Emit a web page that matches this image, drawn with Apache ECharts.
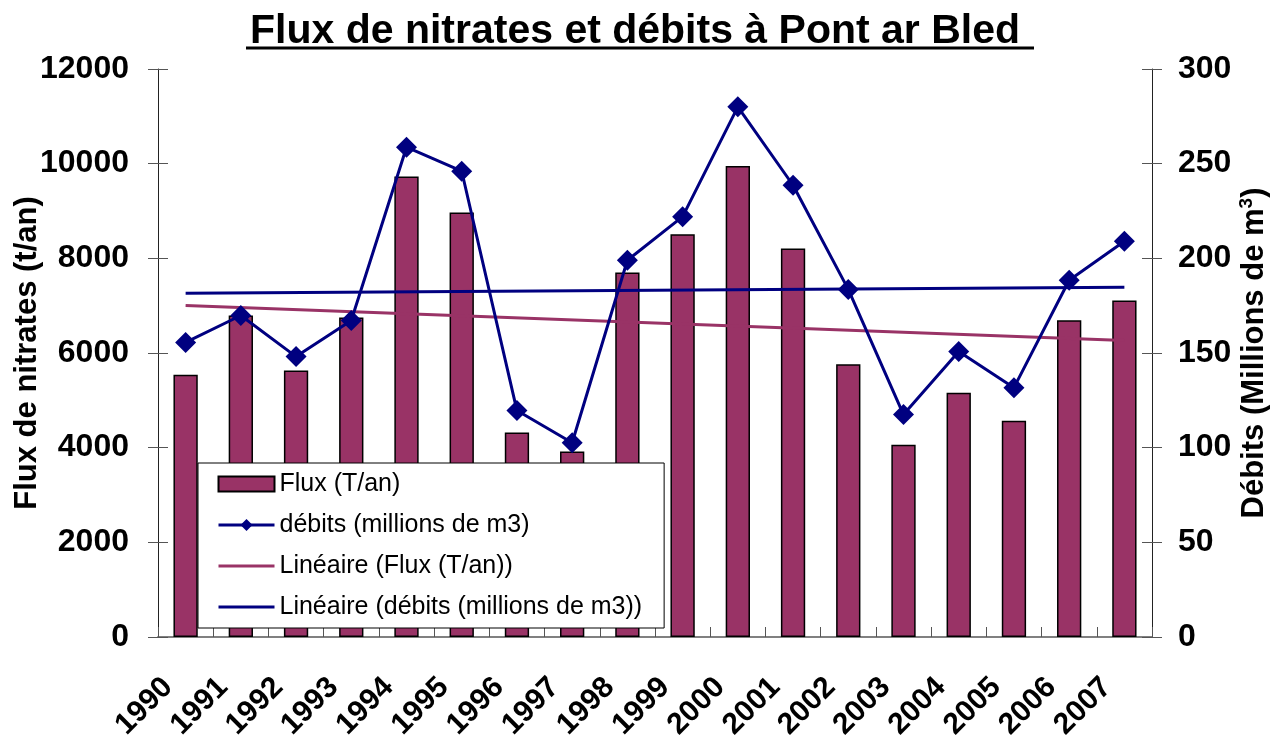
<!DOCTYPE html>
<html>
<head>
<meta charset="utf-8">
<script src="https://cdn.jsdelivr.net/npm/echarts@6/dist/echarts.min.js"></script>
<style>
  html, body { margin: 0; padding: 0; background: #fff; }
  #chart { width: 1270px; height: 740px; }
</style>
</head>
<body>
<div id="chart"></div>
<script>
const years = ['1990', '1991', '1992', '1993', '1994', '1995', '1996', '1997', '1998',
  '1999', '2000', '2001', '2002', '2003', '2004', '2005', '2006', '2007'];
const flux = [5540, 6790, 5630, 6750, 9730, 8970, 4320, 3920, 7700,
  8510, 9950, 8210, 5760, 4060, 5160, 4570, 6690, 7110];
const debits = [155.6, 169.8, 148.1, 167.2, 258.7, 246, 119.6, 102.6, 199,
  222, 280, 238.6, 183.6, 117.5, 150.8, 131.7, 188.4, 209];
// trend lines (first and last year only)
const fluxTrend = [7005, null, null, null, null, null, null, null, null,
  null, null, null, null, null, null, null, null, 6265];
const debitsTrend = [181.5, null, null, null, null, null, null, null, null,
  null, null, null, null, null, null, null, null, 184.7];

const FONT = 'Liberation Sans, Arial, sans-serif';
const barColor = '#993366';
const navy = '#000080';
const tickColor = '#555';

const chart = echarts.init(document.getElementById('chart'));

// helper axes only draw the inner half of the crossing tick marks
const innerTicksY = (pos, max, interval) => ({
  type: 'value',
  position: pos,
  min: 0,
  max: max,
  interval: interval,
  axisLine: { show: false },
  axisTick: { show: true, inside: true, length: 10, lineStyle: { color: tickColor } },
  axisLabel: { show: false },
  splitLine: { show: false }
});

const option = {
  animation: false,
  title: {
    text: 'Flux de nitrates et débits à Pont ar Bled',
    left: 'center',
    top: 6,
    textStyle: { fontFamily: FONT, fontSize: 41, fontWeight: 'bold', color: '#000' }
  },
  graphic: [
    {
      type: 'line',
      shape: { x1: 246, y1: 48, x2: 1034, y2: 48 },
      style: { stroke: '#000', lineWidth: 3 },
      z: 10
    }
  ],
  legend: {
    orient: 'vertical',
    left: 198,
    top: 463,
    padding: [8, 22, 8, 19],
    itemWidth: 56,
    itemHeight: 15,
    itemGap: 15,
    backgroundColor: '#fff',
    borderColor: '#000',
    borderWidth: 1,
    borderRadius: 0,
    lineStyle: { width: 3 },
    textStyle: { fontFamily: FONT, fontSize: 25, color: '#000', lineHeight: 26 },
    data: [
      { name: 'Flux (T/an)', icon: 'rect' },
      { name: 'débits (millions de m3)' },
      { name: 'Linéaire (Flux (T/an))', itemStyle: { opacity: 0 } },
      { name: 'Linéaire (débits (millions de m3))', itemStyle: { opacity: 0 } }
    ]
  },
  grid: { left: 158, right: 118, top: 69, bottom: 103, outerBoundsMode: 'none' },
  xAxis: [
    {
      type: 'category',
      data: years,
      axisLine: { lineStyle: { color: tickColor, width: 1 } },
      axisTick: { length: 10, lineStyle: { color: tickColor } },
      axisLabel: {
        interval: 0,
        rotate: 45,
        margin: 28,
        padding: [0, 25, 0, 0],
        fontFamily: FONT,
        fontSize: 30,
        fontWeight: 'bold',
        color: '#000'
      }
    },
    {
      type: 'category',
      position: 'top',
      data: years,
      axisLine: { lineStyle: { color: '#808080', width: 2 } },
      axisTick: { show: false },
      axisLabel: { show: false }
    },
    {
      type: 'category',
      position: 'bottom',
      data: years,
      axisLine: { show: false },
      axisTick: { show: true, inside: true, length: 10, lineStyle: { color: tickColor } },
      axisLabel: { show: false }
    }
  ],
  yAxis: [
    {
      type: 'value',
      min: 0,
      max: 12000,
      interval: 2000,
      name: 'Flux de nitrates (t/an)',
      nameLocation: 'middle',
      nameRotate: 90,
      nameGap: 115,
      nameMoveOverlap: false,
      nameTextStyle: { fontFamily: FONT, fontSize: 31, fontWeight: 'bold', color: '#000' },
      axisLine: { show: true, lineStyle: { color: '#222', width: 1 } },
      axisTick: { show: true, length: 10, lineStyle: { color: tickColor } },
      splitLine: { show: false },
      axisLabel: {
        margin: 29,
        formatter: function (v) { return String(v); },
        fontFamily: FONT, fontSize: 32, fontWeight: 'bold', color: '#000'
      }
    },
    {
      type: 'value',
      min: 0,
      max: 300,
      interval: 50,
      position: 'right',
      name: '{n|Débits (Millions de m}{sup|3}{n|)}',
      nameLocation: 'middle',
      nameRotate: 90,
      nameGap: 85,
      nameMoveOverlap: false,
      nameTextStyle: {
        rich: {
          n: { fontFamily: FONT, fontSize: 31, fontWeight: 'bold', color: '#000' },
          sup: { fontFamily: FONT, fontSize: 19, fontWeight: 'bold', color: '#000', padding: [0, 0, 16, 0] }
        }
      },
      axisLine: { show: true, lineStyle: { color: '#222', width: 1 } },
      axisTick: { show: true, length: 10, lineStyle: { color: tickColor } },
      splitLine: { show: false },
      axisLabel: { margin: 26, fontFamily: FONT, fontSize: 32, fontWeight: 'bold', color: '#000' }
    },
    innerTicksY('left', 12000, 2000),
    innerTicksY('right', 300, 50)
  ],
  series: [
    {
      name: 'Flux (T/an)',
      type: 'bar',
      data: flux,
      barWidth: '44%',
      itemStyle: { color: barColor, borderColor: '#000', borderWidth: 1.5 }
    },
    {
      name: 'Linéaire (Flux (T/an))',
      type: 'line',
      data: fluxTrend,
      connectNulls: true,
      symbol: 'none',
      lineStyle: { color: barColor, width: 3 },
      itemStyle: { color: barColor },
      z: 3
    },
    {
      name: 'Linéaire (débits (millions de m3))',
      type: 'line',
      yAxisIndex: 1,
      data: debitsTrend,
      connectNulls: true,
      symbol: 'none',
      lineStyle: { color: navy, width: 3 },
      itemStyle: { color: navy },
      z: 3
    },
    {
      name: 'débits (millions de m3)',
      type: 'line',
      yAxisIndex: 1,
      data: debits,
      symbol: 'diamond',
      symbolSize: 21,
      lineStyle: { color: navy, width: 3 },
      itemStyle: { color: navy },
      z: 4
    }
  ]
};

option && chart.setOption(option);
</script>
</body>
</html>
